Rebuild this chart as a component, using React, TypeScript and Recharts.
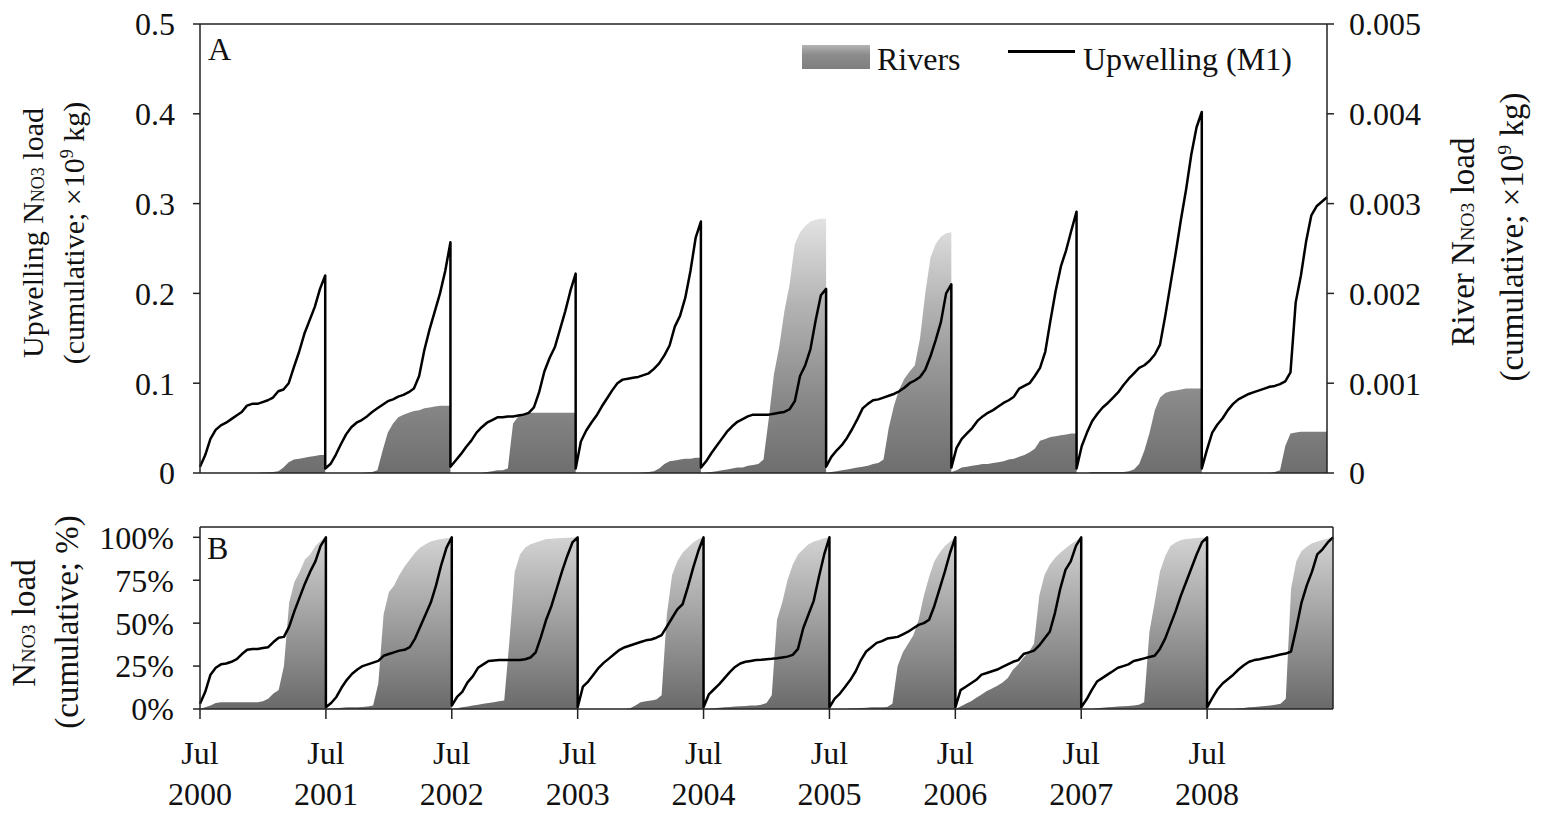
import React from "react"
import { ComposedChart, Area, Line, XAxis, YAxis } from "recharts"

// hydrological years, Jul -> Jun; each row holds 25 half-month samples (Jul 1 ... next Jul 1)
const hydroYears = [2000, 2001, 2002, 2003, 2004, 2005, 2006, 2007, 2008]
const yearTicks = hydroYears.map((_, i) => i)
const STEPS_PER_YEAR = 24

// cumulative upwelling N-NO3 load (x10^9 kg)
const upwellingLoad = [
  [0.007, 0.02, 0.038, 0.048, 0.053, 0.056, 0.06, 0.064, 0.068, 0.075, 0.077, 0.077, 0.079, 0.081, 0.084, 0.091, 0.093, 0.1, 0.118, 0.135, 0.155, 0.17, 0.185, 0.205, 0.22],
  [0.005, 0.01, 0.02, 0.032, 0.043, 0.051, 0.056, 0.059, 0.063, 0.068, 0.072, 0.076, 0.08, 0.082, 0.085, 0.087, 0.09, 0.094, 0.108, 0.137, 0.16, 0.18, 0.2, 0.225, 0.257],
  [0.007, 0.014, 0.021, 0.029, 0.036, 0.045, 0.051, 0.056, 0.059, 0.062, 0.062, 0.063, 0.063, 0.064, 0.065, 0.067, 0.073, 0.09, 0.113, 0.128, 0.14, 0.16, 0.18, 0.203, 0.222],
  [0.005, 0.035, 0.047, 0.056, 0.064, 0.074, 0.083, 0.092, 0.1, 0.104, 0.105, 0.106, 0.107, 0.109, 0.111, 0.116, 0.122, 0.131, 0.142, 0.163, 0.175, 0.195, 0.225, 0.262, 0.28],
  [0.006, 0.013, 0.022, 0.03, 0.038, 0.046, 0.052, 0.057, 0.06, 0.063, 0.065, 0.065, 0.065, 0.065, 0.066, 0.067, 0.068, 0.071, 0.08, 0.108, 0.12, 0.138, 0.17, 0.198, 0.205],
  [0.007, 0.018, 0.025, 0.031, 0.039, 0.049, 0.06, 0.072, 0.077, 0.081, 0.082, 0.084, 0.086, 0.088, 0.091, 0.095, 0.1, 0.103, 0.107, 0.115, 0.13, 0.148, 0.168, 0.2, 0.21],
  [0.006, 0.028, 0.038, 0.044, 0.05, 0.058, 0.063, 0.067, 0.07, 0.074, 0.078, 0.081, 0.085, 0.094, 0.097, 0.1, 0.108, 0.117, 0.135, 0.17, 0.203, 0.23, 0.248, 0.27, 0.291],
  [0.005, 0.03, 0.045, 0.058, 0.066, 0.073, 0.078, 0.084, 0.09, 0.098, 0.105, 0.111, 0.117, 0.12, 0.125, 0.132, 0.143, 0.175, 0.21, 0.245, 0.282, 0.316, 0.355, 0.385, 0.402],
  [0.005, 0.026, 0.045, 0.054, 0.061, 0.07, 0.077, 0.082, 0.085, 0.088, 0.09, 0.092, 0.094, 0.096, 0.097, 0.099, 0.102, 0.112, 0.19, 0.22, 0.258, 0.287, 0.297, 0.302, 0.307],
]

// cumulative river N-NO3 load (x10^9 kg)
const riverLoad = [
  [0, 0, 0, 0, 0, 0, 0, 0, 0, 0, 0, 0, 0.000005, 0.000008, 0.00001, 0.00002, 0.00006, 0.00012, 0.00015, 0.00016, 0.00017, 0.00018, 0.00019, 0.0002, 0.0002],
  [0, 0, 0, 0, 0, 0, 0, 0, 0.000005, 0.00001, 0.00003, 0.00025, 0.00045, 0.00055, 0.00062, 0.00065, 0.00067, 0.00069, 0.0007, 0.00072, 0.00073, 0.00074, 0.00075, 0.00075, 0.00075],
  [0, 0, 0, 0, 0, 0, 0, 0.00001, 0.00002, 0.00003, 0.00003, 0.00005, 0.00055, 0.00063, 0.00066, 0.00067, 0.00067, 0.00067, 0.00067, 0.00067, 0.00067, 0.00067, 0.00067, 0.00067, 0.00067],
  [0, 0, 0, 0, 0, 0, 0, 0, 0, 0, 0, 0, 0, 0.000005, 0.00001, 0.00002, 0.00005, 0.0001, 0.00013, 0.00014, 0.00015, 0.00016, 0.00016, 0.00017, 0.00017],
  [0, 0.000005, 0.00001, 0.00002, 0.00003, 0.00004, 0.00005, 0.00006, 0.00006, 0.00008, 0.00009, 0.0001, 0.00015, 0.0006, 0.0011, 0.0014, 0.0018, 0.0021, 0.00255, 0.00268, 0.00275, 0.0028, 0.00282, 0.00283, 0.00283],
  [0, 0.00001, 0.00002, 0.00003, 0.00004, 0.00005, 0.00006, 0.00007, 0.00008, 0.0001, 0.00011, 0.00015, 0.0005, 0.00075, 0.00093, 0.00105, 0.00113, 0.0012, 0.0015, 0.002, 0.0024, 0.00255, 0.00263, 0.00267, 0.00268],
  [0.00001, 0.00003, 0.00006, 0.00007, 0.00008, 0.00009, 0.0001, 0.0001, 0.00011, 0.00012, 0.00013, 0.00015, 0.00016, 0.00018, 0.0002, 0.00023, 0.00027, 0.00036, 0.00038, 0.0004, 0.00041, 0.00042, 0.00043, 0.00044, 0.00044],
  [0, 0, 0, 0.00001, 0.00001, 0.00001, 0.00001, 0.00001, 0.00001, 0.00001, 0.00002, 0.00004, 0.0001, 0.00025, 0.00045, 0.0007, 0.00084, 0.00089, 0.00091, 0.00092, 0.00093, 0.00094, 0.00094, 0.00094, 0.00094],
  [0, 0, 0, 0, 0, 0, 0, 0, 0, 0, 0, 0, 0, 0, 0.00001, 0.00003, 0.0003, 0.00044, 0.00045, 0.00046, 0.00046, 0.00046, 0.00046, 0.00046, 0.00046],
]

// same loads as % of each year's total
const upwellingPct = [
  [3, 10, 20, 24, 26, 26.5, 27.5, 29, 32, 34.5, 35, 35, 35.5, 36, 39, 41.5, 42, 48, 57, 65, 73, 80, 86, 95, 100],
  [1, 3.5, 7, 12.5, 17, 20.5, 23, 25, 26, 27, 28, 31, 32, 33, 34, 34.5, 36, 41, 48, 55, 62, 72, 84, 94, 100],
  [2, 7, 10, 15.5, 19, 24, 26, 28, 28.3, 28.5, 28.5, 28.5, 28.5, 28.5, 29, 30, 33, 42, 52, 60, 70, 80, 89, 97, 100],
  [1, 13, 16, 20, 24, 27, 29.5, 32, 34.5, 36, 37, 38, 39, 40, 40.5, 41.5, 43, 48, 53, 58, 61, 71, 82, 92, 100],
  [1, 8.5, 11.5, 14.5, 18, 21.5, 24.5, 26.5, 27.5, 28, 28.5, 28.7, 29, 29.2, 29.5, 30, 30.5, 31.5, 35, 47, 55, 63, 77, 90, 100],
  [1, 6, 9, 13, 17, 22, 28.5, 33.5, 36, 38.5, 39.5, 41, 41.5, 42, 43.5, 45, 47, 49, 50, 52, 60, 70, 80, 91, 100],
  [1, 11, 13, 15, 17, 20, 21, 22, 23, 24.5, 26, 27.5, 28.5, 32, 33, 34, 37, 41, 45, 56, 70, 81, 86, 95, 100],
  [1, 5.5, 11, 16, 18, 20, 22, 24, 25, 26, 28, 28.7, 29.5, 30.3, 31, 35, 41, 49, 57, 66, 74, 82, 90, 97, 100],
  [1, 6.5, 11.5, 15, 17.5, 20, 23, 25.5, 27.5, 28.5, 29, 29.7, 30.3, 31, 31.7, 32.3, 33.5, 47, 62, 72, 80, 90, 93, 97, 100],
]

const riverPct = [
  [0, 1, 2, 3.5, 4, 4, 4, 4, 4, 4, 4, 4, 4.5, 6, 9, 11, 25, 62, 74, 80, 87, 90, 95, 98, 100],
  [0, 0.3, 0.5, 0.7, 1, 1, 1, 1.2, 1.5, 2, 15, 55, 68, 72, 78, 83, 87, 91, 94, 96, 97.5, 98.5, 99, 99.5, 100],
  [0, 0.5, 1, 1.5, 2, 2.5, 3, 3.5, 4, 4.5, 5, 40, 80, 90, 94, 96, 97, 98, 99, 99.2, 99.4, 99.6, 99.8, 99.9, 100],
  [0, 0, 0, 0, 0, 0, 0, 0, 0, 0, 0.5, 2, 4, 4.5, 5, 5.5, 8, 55, 78, 86, 91, 94, 97, 99, 100],
  [0, 0.2, 0.4, 0.7, 1, 1.2, 1.4, 1.6, 1.8, 2, 2, 2.5, 3.5, 8, 52, 62, 75, 84, 90, 93, 96, 97.5, 98.5, 99.5, 100],
  [0, 0, 0, 0, 0.3, 0.5, 0.6, 0.8, 1, 1, 1, 1.2, 3, 25, 33, 38, 43, 52, 66, 77, 86, 91, 95, 97.5, 100],
  [0, 1.5, 3, 4.5, 6.5, 8.5, 10.5, 12, 13.5, 15.5, 18, 23, 26, 30, 33, 38, 66, 78, 84, 88, 91, 93.5, 96, 98, 100],
  [0, 0, 0, 0.5, 0.8, 1, 1.2, 1.4, 1.6, 1.8, 2, 2.5, 4, 45, 62, 80, 89, 95, 97, 98.5, 99, 99.3, 99.6, 99.8, 100],
  [0, 0, 0, 0, 0, 0, 0.3, 0.6, 1, 1.2, 1.5, 1.8, 2, 2.5, 3, 6, 70, 86, 92, 94.5, 96.5, 97.5, 98.5, 99.3, 100],
]

const leftTicksA = [0, 0.1, 0.2, 0.3, 0.4, 0.5]
const rightTicksA = [0, 0.001, 0.002, 0.003, 0.004, 0.005]
const pctTicks = [0, 25, 50, 75, 100]

const SERIF = '"Liberation Serif", "Times New Roman", serif'
const INK = "#111"

type Row = { t: number; up: number; riv: number }

function buildRows(up: number[][], riv: number[][]): Row[] {
  const rows: Row[] = []
  up.forEach((year, i) =>
    year.forEach((u, h) => rows.push({ t: i + h / STEPS_PER_YEAR, up: u, riv: riv[i][h] }))
  )
  return rows
}

const loadRows = buildRows(upwellingLoad, riverLoad)
const pctRows = buildRows(upwellingPct, riverPct)

const tickStyle = { fontSize: 32, fill: INK, fontFamily: SERIF }
const axisStroke = { stroke: "#222", strokeWidth: 1.5 }

function YearTick({ x, y, payload }: { x: number; y: number; payload: { value: number } }) {
  return (
    <text x={x} y={y} textAnchor="middle" fontSize={32} fontFamily={SERIF} fill={INK}>
      <tspan x={x} dy={43}>Jul</tspan>
      <tspan x={x} dy={41}>{hydroYears[payload.value]}</tspan>
    </text>
  )
}

function Sub({ children }: { children: React.ReactNode }) {
  return <span style={{ fontSize: "0.6em", verticalAlign: "-0.05em" }}>{children}</span>
}

function VTitle({ cx, cy, size = 30, children }: { cx: number; cy: number; size?: number; children: React.ReactNode }) {
  return (
    <div
      style={{
        position: "absolute",
        left: cx,
        top: cy,
        transform: "translate(-50%, -50%) rotate(-90deg)",
        whiteSpace: "nowrap",
        fontFamily: SERIF,
        fontSize: size,
        lineHeight: 1,
        color: INK,
      }}
    >
      {children}
    </div>
  )
}

function Text({ left, top, size = 32, children }: { left: number; top: number; size?: number; children: React.ReactNode }) {
  return (
    <div style={{ position: "absolute", left, top, fontFamily: SERIF, fontSize: size, lineHeight: 1, color: INK, whiteSpace: "nowrap" }}>
      {children}
    </div>
  )
}

const nine = <sup style={{ fontSize: "0.6em" }}>9</sup>

export default function App() {
  return (
    <div style={{ position: "absolute", left: 0, top: 0, width: 1549, height: 814, background: "#fff", overflow: "hidden" }}>
      {/* panel A: absolute loads */}
      <div style={{ position: "absolute", left: 0, top: 0 }}>
        <ComposedChart width={1549} height={490} data={loadRows} margin={{ top: 22, right: 122, bottom: 7, left: 100 }}>
          <defs>
            <linearGradient id="rivA" x1="0" y1="0" x2="0" y2="1">
              <stop offset="0%" stopColor="#e2e2e2" />
              <stop offset="35%" stopColor="#b2b2b2" />
              <stop offset="70%" stopColor="#8a8a8a" />
              <stop offset="100%" stopColor="#6e6e6e" />
            </linearGradient>
          </defs>
          <XAxis xAxisId="top" orientation="top" type="number" dataKey="t" domain={[0, 9]} height={2} tick={false} tickLine={false} axisLine={axisStroke} />
          <XAxis
            type="number"
            dataKey="t"
            domain={[0, 9]}
            ticks={yearTicks}
            interval={0}
            height={10}
            tick={false}
            tickSize={8}
            tickLine={axisStroke}
            axisLine={axisStroke}
          />
          <YAxis
            yAxisId="left"
            domain={[0, 0.5]}
            ticks={leftTicksA}
            interval={0}
            width={100}
            tickSize={7}
            tickMargin={18}
            tick={tickStyle}
            tickLine={axisStroke}
            axisLine={axisStroke}
            tickFormatter={(v: number) => (v === 0 ? "0" : v.toFixed(1))}
          />
          <YAxis
            yAxisId="right"
            orientation="right"
            domain={[0, 0.005]}
            ticks={rightTicksA}
            interval={0}
            width={100}
            tickSize={7}
            tickMargin={15}
            tick={tickStyle}
            tickLine={axisStroke}
            axisLine={axisStroke}
            tickFormatter={(v: number) => (v === 0 ? "0" : v.toFixed(3))}
          />
          <Area yAxisId="right" type="linear" dataKey="riv" stroke="none" fill="url(#rivA)" fillOpacity={1} isAnimationActive={false} />
          <Line yAxisId="left" type="linear" dataKey="up" stroke="#000" strokeWidth={2.5} strokeLinejoin="round" dot={false} isAnimationActive={false} />
        </ComposedChart>
      </div>

      {/* panel B: share of the yearly total */}
      <div style={{ position: "absolute", left: 0, top: 500 }}>
        <ComposedChart width={1549} height={314} data={pctRows} margin={{ top: 25, right: 214, bottom: 15, left: 100 }}>
          <defs>
            <linearGradient id="rivB" x1="0" y1="0" x2="0" y2="1">
              <stop offset="0%" stopColor="#d2d2d2" />
              <stop offset="50%" stopColor="#9e9e9e" />
              <stop offset="100%" stopColor="#6a6a6a" />
            </linearGradient>
          </defs>
          <XAxis xAxisId="top" orientation="top" type="number" dataKey="t" domain={[0, 9]} height={2} tick={false} tickLine={false} axisLine={axisStroke} />
          <XAxis
            type="number"
            dataKey="t"
            domain={[0, 9]}
            ticks={yearTicks}
            interval={0}
            height={90}
            tickSize={10}
            tickMargin={2}
            tickLine={axisStroke}
            axisLine={axisStroke}
            tick={(p: any) => <YearTick {...p} />}
          />
          <YAxis
            yAxisId="pct"
            domain={[0, 106]}
            ticks={pctTicks}
            interval={0}
            width={100}
            tickSize={7}
            tickMargin={19}
            tick={tickStyle}
            tickLine={axisStroke}
            axisLine={axisStroke}
            tickFormatter={(v: number) => `${v}%`}
          />
          <YAxis yAxisId="frame" orientation="right" domain={[0, 106]} width={2} tick={false} tickLine={false} axisLine={axisStroke} />
          <Area yAxisId="pct" type="linear" dataKey="riv" stroke="none" fill="url(#rivB)" fillOpacity={1} isAnimationActive={false} />
          <Line yAxisId="pct" type="linear" dataKey="up" stroke="#000" strokeWidth={2.5} strokeLinejoin="round" dot={false} isAnimationActive={false} />
        </ComposedChart>
      </div>

      {/* legend */}
      <div
        style={{
          position: "absolute",
          left: 802,
          top: 45,
          width: 68,
          height: 24,
          background: "linear-gradient(#b4b4b4, #8c8c8c 40%, #7e7e7e)",
        }}
      />
      <Text left={877} top={43}>Rivers</Text>
      <div style={{ position: "absolute", left: 1008, top: 50, width: 67, height: 2.5, background: "#000" }} />
      <Text left={1083} top={43}>Upwelling (M1)</Text>

      {/* panel letters */}
      <Text left={208} top={33}>A</Text>
      <Text left={207} top={532}>B</Text>

      {/* axis titles */}
      <VTitle cx={33} cy={233}>
        Upwelling N<Sub>NO3</Sub> load
      </VTitle>
      <VTitle cx={73} cy={233}>
        (cumulative; ×10{nine} kg)
      </VTitle>
      <VTitle cx={1463} cy={242} size={33}>
        River N<Sub>NO3</Sub> load
      </VTitle>
      <VTitle cx={1512} cy={237} size={33}>
        (cumulative; ×10{nine} kg)
      </VTitle>
      <VTitle cx={24} cy={623} size={33}>
        N<Sub>NO3</Sub> load
      </VTitle>
      <VTitle cx={67} cy={622} size={33}>
        (cumulative; %)
      </VTitle>
    </div>
  )
}
